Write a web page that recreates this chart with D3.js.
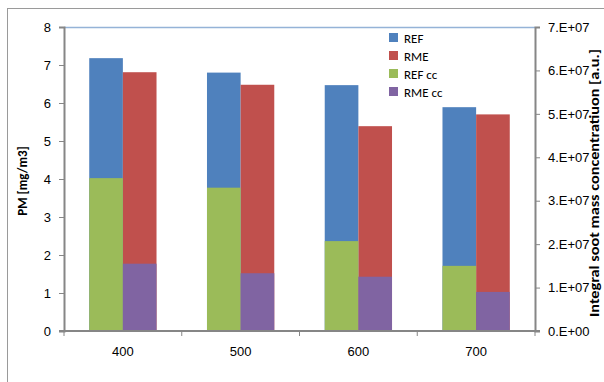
<!DOCTYPE html>
<html lang="en">
<head>
    <meta charset="UTF-8">
    <title>PM and soot mass</title>
    <script src="https://d3js.org/d3.v7.min.js"></script>
    <style>
        body { margin: 0; background: #fff; }
        svg { display: block; font-family: Carlito, Lato, "Liberation Sans", sans-serif; }
        .tick text { fill: #000; font-size: 13px; }
    </style>
</head>
<body>
    <svg id="chart" width="604" height="382"></svg>
    <script>
        // donnees
        var categories = ["400", "500", "600", "700"];
        var refPM = [7.18, 6.80, 6.47, 5.89];
        var rmePM = [6.81, 6.48, 5.39, 5.70];
        var refCC = [3.52e7, 3.30e7, 2.07e7, 1.50e7];
        var rmeCC = [1.55e7, 1.33e7, 1.25e7, 0.90e7];
        var leftTicks = [0, 1, 2, 3, 4, 5, 6, 7, 8];
        var rightTicks = [0, 1e7, 2e7, 3e7, 4e7, 5e7, 6e7, 7e7];
        var legendLabels = ["REF", "RME", "REF cc", "RME cc"];
        var colors = ["#4F81BD", "#C0504D", "#9BBB59", "#8064A2"];

        var svg = d3.select("#chart");
        var plot = { left: 64, right: 535, top: 27, bottom: 331 };

        // cadre du graphique (deborde a droite et en bas)
        svg.append("rect")
            .attr("x", 7.5).attr("y", 8.5)
            .attr("width", 700).attr("height", 500)
            .attr("fill", "none").attr("stroke", "#9a9a9a").attr("stroke-width", 1);

        // largeur d'intervalle 150% comme dans Excel
        var x = d3.scaleBand().domain(categories)
            .range([plot.left, plot.right])
            .paddingInner(1.5 / 3.5).paddingOuter(0.75 / 3.5);
        var xInner = d3.scaleBand().domain([0, 1]).range([0, x.bandwidth()]);
        var y = d3.scaleLinear().domain([0, 8]).range([plot.bottom, plot.top]);
        var y2 = d3.scaleLinear().domain([0, 7e7]).range([plot.bottom, plot.top]);

        // bord haut de la zone de trace
        svg.append("line")
            .attr("x1", plot.left).attr("x2", plot.right)
            .attr("y1", plot.top + 0.5).attr("y2", plot.top + 0.5)
            .attr("stroke", "#95B3D7").attr("stroke-width", 1.5);

        function drawBars(values, scale, idx, color) {
            svg.append("g").selectAll("rect")
                .data(values)
                .join("rect")
                .attr("x", function(d, i) { return x(categories[i]) + xInner(idx); })
                .attr("width", xInner.bandwidth())
                .attr("y", function(d) { return scale(d); })
                .attr("height", function(d) { return scale(0) - scale(d); })
                .attr("fill", color);
        }
        drawBars(refPM, y, 0, colors[0]);
        drawBars(rmePM, y, 1, colors[1]);
        drawBars(refCC, y2, 0, colors[2]);
        drawBars(rmeCC, y2, 1, colors[3]);

        // axes
        var leftAxis = svg.append("g")
            .attr("transform", "translate(" + plot.left + ",0)")
            .call(d3.axisLeft(y).tickValues(leftTicks).tickSize(5).tickPadding(8));
        var rightAxis = svg.append("g")
            .attr("transform", "translate(" + plot.right + ",0)")
            .call(d3.axisRight(y2).tickValues(rightTicks).tickSize(5).tickPadding(8)
                .tickFormat(function(d) { return d === 0 ? "0.E+00" : (d / 1e7) + ".E+07"; }));
        var bottomAxis = svg.append("g")
            .attr("transform", "translate(0," + plot.bottom + ")")
            .call(d3.axisBottom(x).tickSize(0).tickPadding(16));

        // graduations entre les categories
        var bounds = d3.range(categories.length + 1).map(function(i) { return plot.left + i * x.step(); });
        svg.append("g").selectAll("line")
            .data(bounds)
            .join("line")
            .attr("x1", function(d) { return d; }).attr("x2", function(d) { return d; })
            .attr("y1", plot.bottom).attr("y2", plot.bottom + 5)
            .attr("stroke", "#868686").attr("stroke-width", 1);

        [leftAxis, rightAxis, bottomAxis].forEach(function(a) {
            a.select(".domain").attr("stroke", "#868686").attr("stroke-width", 2);
            a.selectAll(".tick line").attr("stroke", "#868686");
        });
        bottomAxis.select(".domain").attr("d", "M" + (plot.left - 5) + ",0H" + (plot.right + 5));

        // titres des axes
        svg.append("text")
            .attr("transform", "translate(27,181) rotate(-90)")
            .attr("text-anchor", "middle")
            .style("font-size", "13px").style("font-weight", "bold")
            .text("PM [mg/m3]");
        svg.append("text")
            .attr("transform", "translate(599,183) rotate(-90)")
            .attr("text-anchor", "middle")
            .attr("textLength", 268).attr("lengthAdjust", "spacingAndGlyphs")
            .style("font-size", "13px").style("font-weight", "bold")
            .text("Integral soot mass concentratiuon [a.u.]");

        // legende
        var legend = svg.append("g").attr("transform", "translate(389,33)");
        var items = legend.selectAll("g")
            .data(legendLabels)
            .join("g")
            .attr("transform", function(d, i) { return "translate(0," + (i * 18) + ")"; });
        items.append("rect")
            .attr("width", 9).attr("height", 9)
            .attr("fill", function(d, i) { return colors[i]; });
        items.append("text")
            .attr("x", 15).attr("y", 9.5)
            .style("font-size", "13px")
            .text(function(d) { return d; });
    </script>
</body>
</html>
